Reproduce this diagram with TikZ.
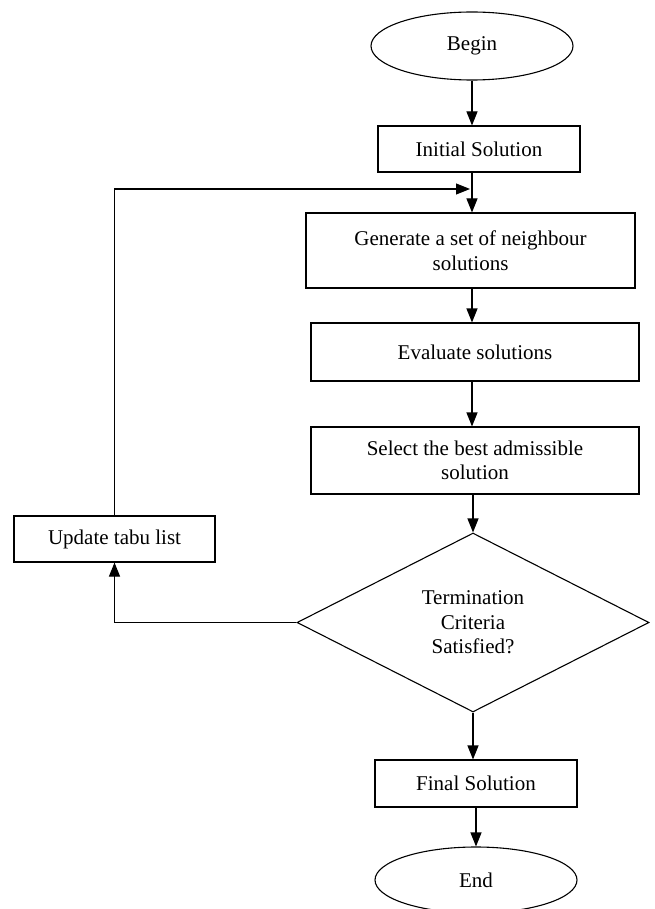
\documentclass[tikz,border=0pt]{standalone}
\usepackage{fontspec}
\setmainfont{Liberation Serif}
\usetikzlibrary{shapes.geometric,arrows.meta}
\begin{document}
\begin{tikzpicture}[x=1pt,y=-1pt,
  every node/.style={font=\fontsize{21}{24.5}\selectfont, align=center, inner sep=0pt, line width=1.1pt},
  proc/.style={draw, rectangle},
  term/.style={draw, ellipse},
  decide/.style={draw, diamond},
  arr/.style={line width=1.1pt, -{Triangle[width=11pt,length=14pt]}}]
\useasboundingbox (0,0) rectangle (655,909);
\node[term, minimum width=202pt, minimum height=68pt] (begin) at (472,46) {Begin};
\node[proc, minimum width=202pt, minimum height=46pt] (init) at (479,149) {Initial Solution};
\node[proc, minimum width=329pt, minimum height=75pt] (gen) at (470.5,250.5) {Generate a set of neighbour\\solutions};
\node[proc, minimum width=328pt, minimum height=58pt] (eval) at (475,352) {Evaluate solutions};
\node[proc, minimum width=328pt, minimum height=67pt] (sel) at (475,460.5) {Select the best admissible\\solution};
\node[decide, minimum width=352pt, minimum height=179pt] (dec) at (473,622.5) {Termination\\Criteria\\Satisfied?};
\node[proc, minimum width=202pt, minimum height=47pt] (final) at (476,783.5) {Final Solution};
\node[term, minimum width=202pt, minimum height=66pt] (end) at (476,880) {End};
\node[proc, minimum width=201pt, minimum height=46pt] (upd) at (114.5,539) {Update tabu list};
\coordinate (fb) at (470,189);
\draw[arr] (begin.south) -- (begin.south |- init.north);
\draw[arr] (init.south -| begin.south) -- (gen.north -| begin.south);
\draw[arr] (upd.north) |- (fb);
\draw[arr] (gen.south -| begin.south) -- (eval.north -| begin.south);
\draw[arr] (eval.south -| begin.south) -- (sel.north -| begin.south);
\draw[arr] (sel.south -| dec.north) -- (dec.north);
\draw[arr] (dec.south) -- (final.north -| dec.south);
\draw[arr] (final.south -| end.north) -- (end.north);
\draw[arr] (dec.west) -| (upd.south);
\end{tikzpicture}
\end{document}
